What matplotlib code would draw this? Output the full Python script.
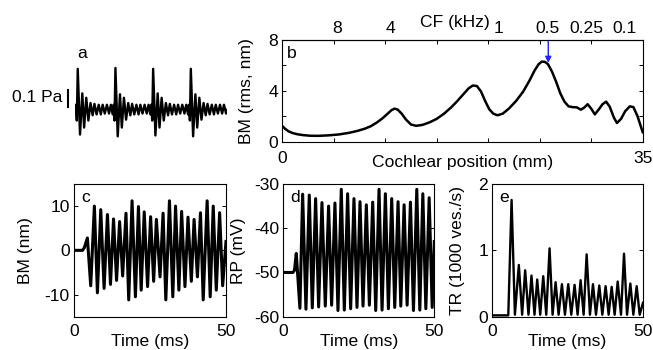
import matplotlib
matplotlib.use("Agg")
import matplotlib.pyplot as plt

plt.rcParams['font.family'] = ['Liberation Sans', 'DejaVu Sans']
plt.rcParams['font.size'] = 12.6
plt.rcParams['axes.unicode_minus'] = False

# --- data ---

# a: stimulus pressure (Pa) vs time (ms)
t_a = [0.0, 0.3, 0.6, 0.9, 1.65, 2.4, 3.0, 3.7, 4.4, 5.1, 5.8, 6.4, 7.1, 7.8, 8.5, 9.1, 9.8, 10.5, 11.2, 11.8, 12.4,
       12.7, 13.0, 13.3, 14.05, 14.8, 15.4, 16.1, 16.8, 17.5, 18.2, 18.8, 19.5, 20.2, 20.9, 21.5, 22.2, 22.9, 23.6, 24.2, 24.8,
       25.1, 25.4, 25.7, 26.45, 27.2, 27.8, 28.5, 29.2, 29.9, 30.6, 31.2, 31.9, 32.6, 33.3, 33.9, 34.6, 35.3, 36.0, 36.6, 37.2,
       37.5, 37.8, 38.1, 38.85, 39.6, 40.2, 40.9, 41.6, 42.3, 43.0, 43.6, 44.3, 45.0, 45.7, 46.3, 47.0, 47.7, 48.4, 49.0, 49.7, 50.0]
p_a = [0.0, 0.03, -0.06, 0.235, -0.14, 0.095, -0.1, 0.07, -0.06, 0.04, -0.03, 0.035, -0.025, 0.03, -0.025, 0.03, -0.02, 0.03, -0.02, 0.03, -0.025,
       0.03, -0.06, 0.24, -0.15, 0.09, -0.1, 0.07, -0.055, 0.04, -0.03, 0.035, -0.025, 0.03, -0.025, 0.03, -0.02, 0.03, -0.02, 0.03, -0.025,
       0.03, -0.06, 0.235, -0.145, 0.095, -0.1, 0.07, -0.06, 0.04, -0.03, 0.035, -0.025, 0.03, -0.025, 0.03, -0.02, 0.03, -0.02, 0.03, -0.025,
       0.03, -0.06, 0.235, -0.15, 0.09, -0.1, 0.07, -0.055, 0.04, -0.03, 0.035, -0.025, 0.03, -0.025, 0.03, -0.02, 0.03, -0.02, 0.03, -0.02, 0.0]

# b: rms BM displacement (nm) vs cochlear position (mm)
pos_b = [0, 0.3, 0.6, 1.0, 1.5, 2.0, 2.7, 3.5, 4.5, 5.5, 6.5, 7.3, 8.0, 8.6, 9.2, 9.7,
         10.2, 10.6, 10.9, 11.2, 11.6, 12.0, 12.5, 13.0, 13.6, 14.3, 15.0, 15.7, 16.4, 17.0,
         17.6, 18.1, 18.5, 18.9, 19.3, 19.7, 20.1, 20.5, 20.9, 21.4, 22.0, 22.7, 23.4, 24.0,
         24.5, 24.9, 25.2, 25.5, 25.8, 26.2, 26.6, 27.0, 27.4, 27.8, 28.2, 28.6, 29.0, 29.35,
         29.65, 30.0, 30.35, 30.7, 31.1, 31.45, 31.8, 32.2, 32.5, 32.9, 33.3, 33.75, 34.1, 34.5, 35.0]
bm_b = [1.23, 1.0, 0.82, 0.68, 0.58, 0.52, 0.47, 0.46, 0.50, 0.57, 0.70, 0.85, 1.02, 1.22, 1.52, 1.82,
        2.18, 2.48, 2.6, 2.53, 2.2, 1.75, 1.35, 1.25, 1.32, 1.52, 1.8, 2.2, 2.7, 3.2,
        3.75, 4.2, 4.42, 4.38, 3.95, 3.2, 2.55, 2.2, 2.08, 2.2, 2.6, 3.2, 3.95, 4.8,
        5.6, 6.1, 6.3, 6.28, 6.1, 5.5, 4.7, 3.8, 3.15, 2.78, 2.72, 2.7, 2.52, 2.7,
        2.95, 2.6, 2.15, 2.5, 2.95, 3.15, 2.75, 1.9, 1.47, 1.8, 2.4, 2.78, 2.72, 2.0, 0.75]
cf_pos = [5.34, 10.55, 20.98, 25.8, 29.5, 33.2]
cf_labels = ['8', '4', '1', '0.5', '0.25', '0.1']
arrow_pos = 25.83

# c: BM displacement (nm) at the 0.5 kHz place
t_c = [0, 2.8, 3.4, 4.4, 5.5, 6.7, 7.7, 8.8, 9.9, 11.0, 12.0, 13.0, 14.0, 15.0, 16.0, 17.1, 18.0,
       19.1, 20.2, 21.2, 22.1, 23.1, 24.2, 25.2, 26.2, 27.1, 28.3, 29.3, 30.2,
       31.4, 32.5, 33.4, 34.5, 35.4, 36.5, 37.5, 38.6, 39.5, 40.6, 41.6, 42.5,
       43.8, 44.8, 45.8, 46.8, 47.9, 48.9, 50.0]
bm_c = [0, 0, 0.6, 2.8, -8.0, 10.0, -9.6, 9.2, -8.6, 8.1, -7.7, 7.1, -6.8, 6.5, -5.8, 8.4, -11.2,
        11.2, -10.5, 9.9, -9.0, 8.7, -8.2, 7.6, -7.0, 7.0, -6.0, 8.4, -11.2,
        11.2, -10.5, 10.0, -9.0, 8.8, -8.2, 7.5, -7.0, 7.0, -6.0, 8.5, -11.2,
        11.2, -10.5, 10.0, -9.0, 8.5, -8.0, 2.0]

# d: receptor potential (mV)
t_d = [0, 3.2, 3.7, 4.3, 5.5, 6.4, 7.5, 8.6, 9.6, 10.7, 11.7, 12.8, 13.9, 15.0, 16.0, 17.1, 18.1,
       19.2, 20.2, 21.3, 22.3, 23.4, 24.4, 25.4, 26.4, 27.5, 28.5, 29.6, 30.6,
       31.7, 32.7, 33.8, 34.8, 35.9, 36.9, 38.0, 38.9, 40.0, 41.0, 42.1, 43.1,
       44.2, 45.2, 46.2, 47.2, 48.3, 49.3, 50.0]
rp_d = [-50, -50, -49.5, -45.7, -58.1, -32.3, -58.3, -32.5, -58.0, -33.3, -57.8, -34.2, -57.6, -35.0, -57.4, -34.3, -58.6,
        -31.2, -58.5, -32.2, -58.2, -33.3, -57.9, -34.0, -57.6, -34.7, -57.4, -34.1, -58.6,
        -31.2, -58.5, -32.2, -58.2, -33.3, -57.9, -34.0, -57.6, -34.7, -57.4, -34.1, -58.6,
        -31.2, -58.5, -32.2, -58.2, -33.1, -57.9, -43.0]

# e: transmitter release rate (1000 vesicles/s)
t_e = [0, 5.3, 6.4, 7.5, 8.8, 9.9, 10.9, 12.0, 13.0, 14.0, 14.9, 15.9, 16.9, 17.9, 19.0,
       20.0, 21.0, 22.0, 23.1, 24.1, 25.2, 26.2, 27.3, 28.3, 29.3, 30.3, 31.3, 32.4, 33.4,
       34.4, 35.5, 36.5, 37.6, 38.6, 39.6, 40.6, 41.6, 42.7, 43.7, 44.7, 45.8, 46.8, 47.9, 48.9, 50.0]
tr_e = [0.02, 0.02, 1.76, 0.03, 0.78, 0.03, 0.70, 0.03, 0.62, 0.03, 0.56, 0.03, 0.61, 0.03, 1.03,
        0.03, 0.52, 0.03, 0.49, 0.03, 0.49, 0.03, 0.48, 0.03, 0.55, 0.03, 0.94, 0.03, 0.49,
        0.03, 0.47, 0.03, 0.46, 0.03, 0.45, 0.03, 0.53, 0.03, 0.95, 0.03, 0.50, 0.03, 0.46, 0.03, 0.21]

W, H = 653, 350


def box(left, top, right, bottom):
    # pixel box -> figure fraction rect
    return [left / W, 1 - bottom / H, (right - left) / W, (bottom - top) / H]


def style(ax):
    for s in ax.spines.values():
        s.set_linewidth(0.8)
    ax.tick_params(direction='in', length=3, width=0.7, top=True, right=True, pad=3)


fig = plt.figure(figsize=(W / 100, H / 100), dpi=100)

# --- a: stimulus ---
ax_a = fig.add_axes(box(75, 62, 227, 140))
ax_a.plot(t_a, p_a, color='k', lw=1.7, solid_joinstyle='round')
ax_a.set_xlim(0, 50)
ax_a.set_ylim(-0.171, 0.274)
ax_a.axis('off')
ax_a.plot([-2.3, -2.3], [0.015, 0.115], color='k', lw=1.5, clip_on=False)
ax_a.text(-4.0, 0.072, '0.1 Pa', ha='right', va='center')
fig.text(82 / W, 1 - 53 / H, 'a', ha='center', va='center')

# --- b: BM profile ---
ax_b = fig.add_axes(box(282.3, 40, 642.7, 141.7))
style(ax_b)
ax_b.plot(pos_b, bm_b, color='k', lw=1.8)
ax_b.set_xlim(0, 35)
ax_b.set_ylim(0, 8)
ax_b.set_xticks(range(0, 36, 5), ['0', '', '', '', '', '', '', '35'])
ax_b.set_yticks([0, 2, 4, 6, 8], ['0', '', '4', '', '8'])
ax_b.tick_params(axis='x', pad=7)
ax_b.set_ylabel('BM (rms, nm)', va='center')
ax_b.yaxis.set_label_coords(-0.099, 0.5)
ax_b.set_xlabel('Cochlear position (mm)', va='center')
ax_b.xaxis.set_label_coords(0.5, -0.2)
ax_b.annotate('', xy=(arrow_pos, 6.2), xytext=(arrow_pos, 7.9),
              arrowprops=dict(arrowstyle='-|>', color='#1f1fff', lw=1.0,
                              mutation_scale=9, shrinkA=0, shrinkB=0))
cf_ax = ax_b.secondary_xaxis('top')
cf_ax.set_xticks(cf_pos, cf_labels)
cf_ax.tick_params(length=0, pad=3)
fig.text(455 / W, 1 - 22 / H, 'CF (kHz)', ha='center', va='center')
fig.text(292 / W, 1 - 53 / H, 'b', ha='center', va='center')

# --- c, d, e: time traces ---
panels = [
    (box(74, 184, 226, 316.7), t_c, bm_c, (-15, 15), [-10, 0, 10], 'BM (nm)', -0.316, 'c', 2.2),
    (box(283.3, 184, 434.3, 316.7), t_d, rp_d, (-60, -30), [-60, -50, -40, -30], 'RP (mV)', -0.30, 'd', 2.2),
    (box(492.3, 184, 643, 316.7), t_e, tr_e, (0, 2), [0, 1, 2], 'TR (1000 ves./s)', -0.228, 'e', 1.7),
]
for rect, t, y, ylim, yticks, ylabel, ylab_x, tag, lw in panels:
    ax = fig.add_axes(rect)
    style(ax)
    ax.plot(t, y, color='k', lw=lw, solid_joinstyle='round')
    ax.set_xlim(0, 50)
    ax.set_ylim(*ylim)
    ax.set_xticks([0, 50])
    ax.set_yticks(yticks)
    ax.tick_params(axis='x', pad=5)
    ax.set_ylabel(ylabel, va='center')
    ax.yaxis.set_label_coords(ylab_x, 0.5)
    ax.set_xlabel('Time (ms)', va='center')
    ax.xaxis.set_label_coords(0.5, -0.185)
    ax.text(0.045, 0.9, tag, transform=ax.transAxes, ha='left', va='center')

fig.savefig('out.png', dpi=100)
